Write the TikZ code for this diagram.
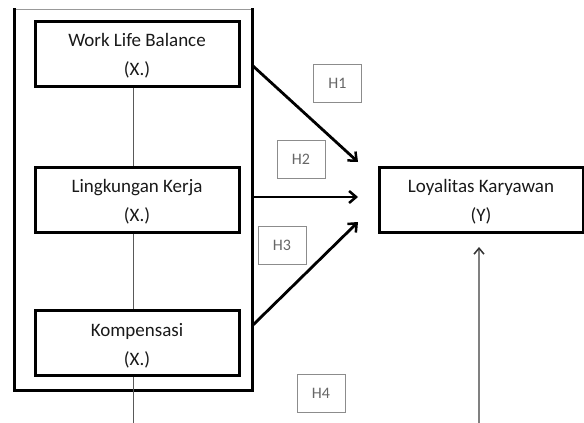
\documentclass[tikz,border=0pt]{standalone}
\usepackage{fontspec}
\setmainfont{Carlito}
\usetikzlibrary{arrows.meta}
\begin{document}
\begin{tikzpicture}[x=1pt,y=-1pt,
  var/.style={draw=black,line width=3pt,minimum width=204pt,minimum height=65pt,align=center,font=\fontsize{19}{29}\selectfont,text=black!90,inner sep=0pt},
  hyp/.style={draw=black!45,line width=1pt,minimum width=48pt,minimum height=38pt,font=\fontsize{16}{17}\selectfont,text=black!60,inner sep=0pt},
  thin/.style={draw=black!65,line width=1pt},
  thick arrow/.style={draw=black,line width=2.8pt,-{Straight Barb[length=7pt,width=12pt,line width=2.5pt]}},
  gray arrow/.style={draw=black!50,line width=2pt,-{Straight Barb[length=6pt,width=10pt,line width=1.5pt,color=black!80]}}]
\useasboundingbox (0,0) rectangle (584,423);
% outer frame
\draw[black!40,line width=0.8pt] (14,9) -- (252,9);
\draw[black,line width=3pt] (14,8) -- (14,390) -- (252,390) -- (252,8);
% variables
\node[var] (x1) at (137,53.5) {\rule{0pt}{18pt}Work Life Balance\\(X.)};
\node[var] (x2) at (137,199.5) {\rule{0pt}{18pt}Lingkungan Kerja\\(X.)};
\node[var] (x3) at (137,343) {\rule{0pt}{18pt}Kompensasi\\(X.)};
\node[var] (y) at (481,199.5) {\rule{0pt}{18pt}Loyalitas Karyawan\\(Y)};
% frame anchor points
\coordinate (s1) at (253,66);
\coordinate (s2) at (253,197);
\coordinate (s3) at (253,325);
\coordinate (t1) at (358,162);
\coordinate (t2) at (358,197);
\coordinate (t3) at (358,222);
\coordinate (bot) at (133,423);
\coordinate (ybot) at (479,423);
\coordinate (ytop) at (479,247);
% connectors inside frame
\draw[thin] (x1.south -| 133,0) -- (x2.north -| 133,0);
\draw[thin] (x2.south -| 133,0) -- (x3.north -| 133,0);
\draw[thin] (x3.south -| 133,0) -- (bot);
% arrows
\draw[thick arrow] (s1) -- (t1);
\draw[thick arrow] (s2) -- (t2);
\draw[thick arrow] (s3) -- (t3);
\draw[gray arrow] (ybot) -- (ytop);
% hypothesis labels
\node[hyp] (h1) at (337.5,83) {H1};
\node[hyp] (h2) at (301,159) {H2};
\node[hyp] (h3) at (282,245) {H3};
\node[hyp] (h4) at (321,393) {H4};
\end{tikzpicture}
\end{document}
